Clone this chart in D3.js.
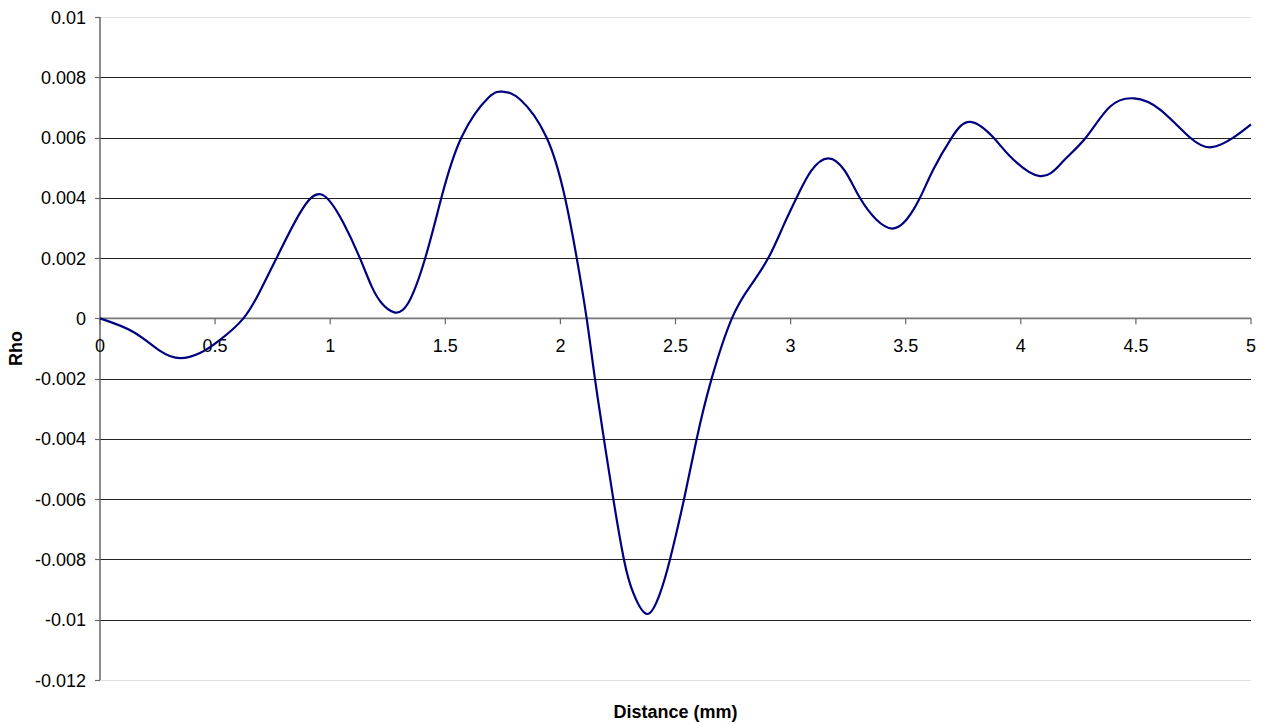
<!DOCTYPE html>
<html>
<head>
<meta charset="utf-8">
<script src="https://cdn.jsdelivr.net/npm/d3@7"></script>
<style>
  body { margin: 0; background: #fff; }
  text { font-family: "Liberation Sans", Arial, sans-serif; fill: #000; }
</style>
</head>
<body>
<div id="chart"></div>
<script>
// Data
const distance = [0, 0.145, 0.261, 0.348, 0.434, 0.520, 0.623, 0.695, 0.767,
  0.869, 0.963, 1.057, 1.130, 1.180, 1.223, 1.278, 1.339, 1.412, 1.483,
  1.570, 1.687, 1.752, 1.824, 1.940, 2.020, 2.071, 2.114,
  2.150, 2.189, 2.230, 2.276, 2.317, 2.378, 2.433, 2.476, 2.537, 2.592,
  2.657, 2.745, 2.824, 2.903, 2.968, 3.026, 3.090, 3.164, 3.235, 3.301,
  3.372, 3.442, 3.504, 3.562, 3.620, 3.700, 3.782, 3.881, 3.953,
  4.083, 4.185, 4.283, 4.387, 4.492, 4.605, 4.735,
  4.829, 4.923, 5.0];
const rho = [0, -0.00045, -0.00108, -0.00132, -0.00115, -0.00072, 0, 0.0009, 0.002,
  0.0035, 0.00411, 0.00317, 0.00198, 0.00106, 0.00051, 0.0002, 0.00051, 0.00198, 0.004,
  0.006, 0.00732, 0.00752, 0.00727, 0.006, 0.004, 0.002, 0,
  -0.002, -0.004, -0.006, -0.008, -0.00912, -0.00981, -0.00912, -0.008, -0.006, -0.004,
  -0.002, 0, 0.00106, 0.002, 0.00306, 0.004, 0.0049, 0.00531, 0.0049, 0.004,
  0.00328, 0.00298, 0.00328, 0.004, 0.00494, 0.006, 0.00652, 0.006, 0.00538,
  0.00472, 0.00522, 0.006, 0.00702, 0.0073, 0.00693, 0.006,
  0.00568, 0.006, 0.00644];
const xTicks = [0, 0.5, 1, 1.5, 2, 2.5, 3, 3.5, 4, 4.5, 5];
const yTicks = [-0.012, -0.01, -0.008, -0.006, -0.004, -0.002, 0, 0.002, 0.004, 0.006, 0.008, 0.01];

// Dimensions
const width = 1264, height = 724;
const margin = { top: 17, right: 13, bottom: 44, left: 100 };

const svg = d3.select('#chart')
  .append('svg')
  .attr('width', width)
  .attr('height', height);

// Scales
const x = d3.scaleLinear().domain([0, 5]).range([margin.left, width - margin.right]);
const y = d3.scaleLinear().domain([-0.012, 0.01]).range([height - margin.bottom, margin.top]);

// plain hyphen minus, like the original
const fmt = d => String(+d.toFixed(3));

// Gridlines (the outer two are the light plot border)
svg.append('g')
  .selectAll('line')
  .data(yTicks)
  .join('line')
  .attr('x1', x(0))
  .attr('x2', x(5))
  .attr('y1', d => Math.round(y(d)) + 0.5)
  .attr('y2', d => Math.round(y(d)) + 0.5)
  .attr('stroke', d => (d === 0.01 || d === -0.012) ? '#e0e0e0' : '#222')
  .attr('stroke-width', 1);

// Y axis
const yAxis = svg.append('g');
yAxis.append('line')
  .attr('x1', x(0)).attr('x2', x(0))
  .attr('y1', y(0.01)).attr('y2', y(-0.012))
  .attr('stroke', '#666').attr('stroke-width', 1.5);
yAxis.selectAll('.tick')
  .data(yTicks)
  .join('line')
  .attr('x1', x(0) - 5).attr('x2', x(0))
  .attr('y1', d => Math.round(y(d)) + 0.5)
  .attr('y2', d => Math.round(y(d)) + 0.5)
  .attr('stroke', '#666').attr('stroke-width', 1.2);
yAxis.selectAll('text')
  .data(yTicks)
  .join('text')
  .attr('x', 86)
  .attr('y', d => y(d) + 6.5)
  .attr('text-anchor', 'end')
  .style('font-size', '18px')
  .text(fmt);

// X axis crosses at zero
const xAxis = svg.append('g');
xAxis.append('line')
  .attr('x1', x(0)).attr('x2', x(5))
  .attr('y1', y(0)).attr('y2', y(0))
  .attr('stroke', '#777').attr('stroke-width', 1.8);
xAxis.selectAll('.tick')
  .data(xTicks)
  .join('line')
  .attr('x1', d => x(d)).attr('x2', d => x(d))
  .attr('y1', y(0)).attr('y2', y(0) + 6)
  .attr('stroke', '#666').attr('stroke-width', 1.2);
xAxis.selectAll('text')
  .data(xTicks)
  .join('text')
  .attr('x', d => x(d))
  .attr('y', y(0) + 34)
  .attr('text-anchor', 'middle')
  .style('font-size', '18px')
  .text(fmt);

// Series line (smooth spline through the read points)
const line = d3.line()
  .x((d, i) => x(distance[i]))
  .y(d => y(d))
  .curve(d3.curveNatural);

svg.append('path')
  .datum(rho)
  .attr('d', line)
  .attr('fill', 'none')
  .attr('stroke', '#000080')
  .attr('stroke-width', 2.2);

// Axis titles
svg.append('text')
  .attr('x', (x(0) + x(5)) / 2)
  .attr('y', 718)
  .attr('text-anchor', 'middle')
  .style('font-size', '18px')
  .style('font-weight', 'bold')
  .text('Distance (mm)');

svg.append('text')
  .attr('transform', `translate(21.5, ${(y(0.01) + y(-0.012)) / 2}) rotate(-90)`)
  .attr('text-anchor', 'middle')
  .style('font-size', '18px')
  .style('font-weight', 'bold')
  .text('Rho');
</script>
</body>
</html>
